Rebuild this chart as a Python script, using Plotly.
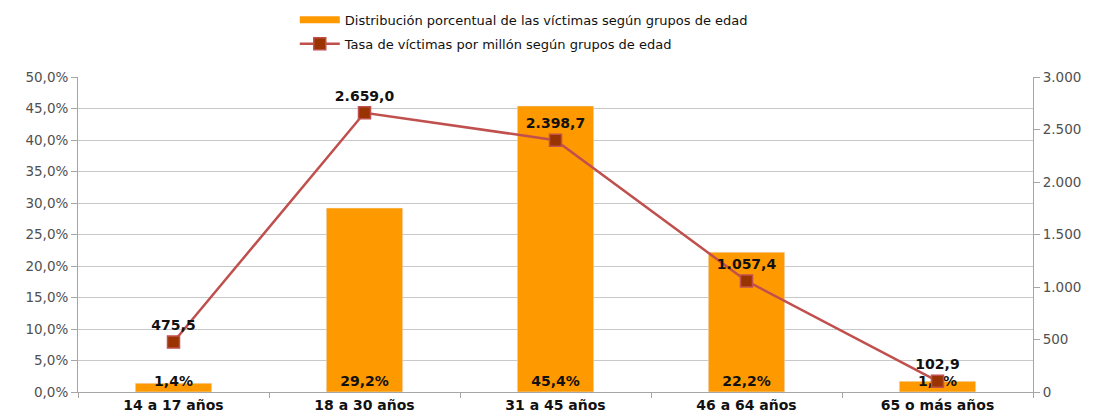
import plotly.graph_objects as go

categories = ["14 a 17 años", "18 a 30 años", "31 a 45 años", "46 a 64 años", "65 o más años"]
pct_values = [0.014, 0.292, 0.454, 0.222, 0.017]
rate_values = [475.5, 2659.0, 2398.7, 1057.4, 102.9]

BAR_NAME = "Distribución porcentual de las víctimas según grupos de edad"
LINE_NAME = "Tasa de víctimas por millón según grupos de edad"
FONT = "DejaVu Sans"

fig = go.Figure()
fig.add_trace(go.Bar(
    x=categories, y=pct_values, name=BAR_NAME,
    marker=dict(color="#FF9900"), width=0.4, yaxis="y", showlegend=False,
    texttemplate="%{y:.1%}", textposition="inside", insidetextanchor="start",
    constraintext="none", textangle=0,
    insidetextfont=dict(family=FONT, size=14, color="#111", weight="bold"),
))
# legend swatch for the bar series (Excel-style wide swatch)
fig.add_trace(go.Scatter(
    x=[None], y=[None], mode="lines", name=BAR_NAME, legendgroup="g1",
    line=dict(color="#FF9900", width=7), yaxis="y",
))
fig.add_trace(go.Scatter(
    x=categories, y=rate_values, name=LINE_NAME, legendgroup="g2",
    mode="lines+markers+text", yaxis="y2",
    line=dict(color="#C0504D", width=2.5),
    marker=dict(symbol="square", size=12, color="#993300", line=dict(color="#C0504D", width=1.5)),
    texttemplate="%{y:,.1f}", textposition="top center",
    textfont=dict(family=FONT, size=14, color="#111", weight="bold"),
    cliponaxis=False,
))

fig.update_layout(
    width=1092, height=411,
    margin=dict(l=70, r=67, t=69, b=27, autoexpand=False),
    paper_bgcolor="white", plot_bgcolor="white",
    separators=",.",
    font=dict(family=FONT, color="#404040"),
    showlegend=True,
    legend=dict(x=0.227, y=1.229, xanchor="left", yanchor="top", orientation="v",
                font=dict(family=FONT, size=13, color="#111"), tracegroupgap=4,
                itemwidth=40, bgcolor="rgba(0,0,0,0)"),
    bargap=0.6,
    xaxis=dict(showline=True, linecolor="#A6A6A6", ticks="outside", tickson="boundaries",
               tickcolor="#A6A6A6", ticklen=5, showgrid=False,
               tickfont=dict(family=FONT, size=14, color="#111", weight="bold")),
    yaxis=dict(range=[0, 0.5], dtick=0.05, tickformat=".1%", showline=True, linecolor="#A6A6A6",
               ticks="outside", tickcolor="#A6A6A6", ticklen=6, gridcolor="#C8C8C8", gridwidth=1,
               tickfont=dict(family=FONT, size=13.5, color="#505050"), zeroline=False),
    yaxis2=dict(range=[0, 3000], dtick=500, tickformat=",d", overlaying="y", side="right",
                showline=True, linecolor="#A6A6A6", ticks="outside", tickcolor="#A6A6A6", ticklen=6,
                showgrid=False, zeroline=False,
                tickfont=dict(family=FONT, size=13.5, color="#505050")),
)

fig.write_html("out.html")
